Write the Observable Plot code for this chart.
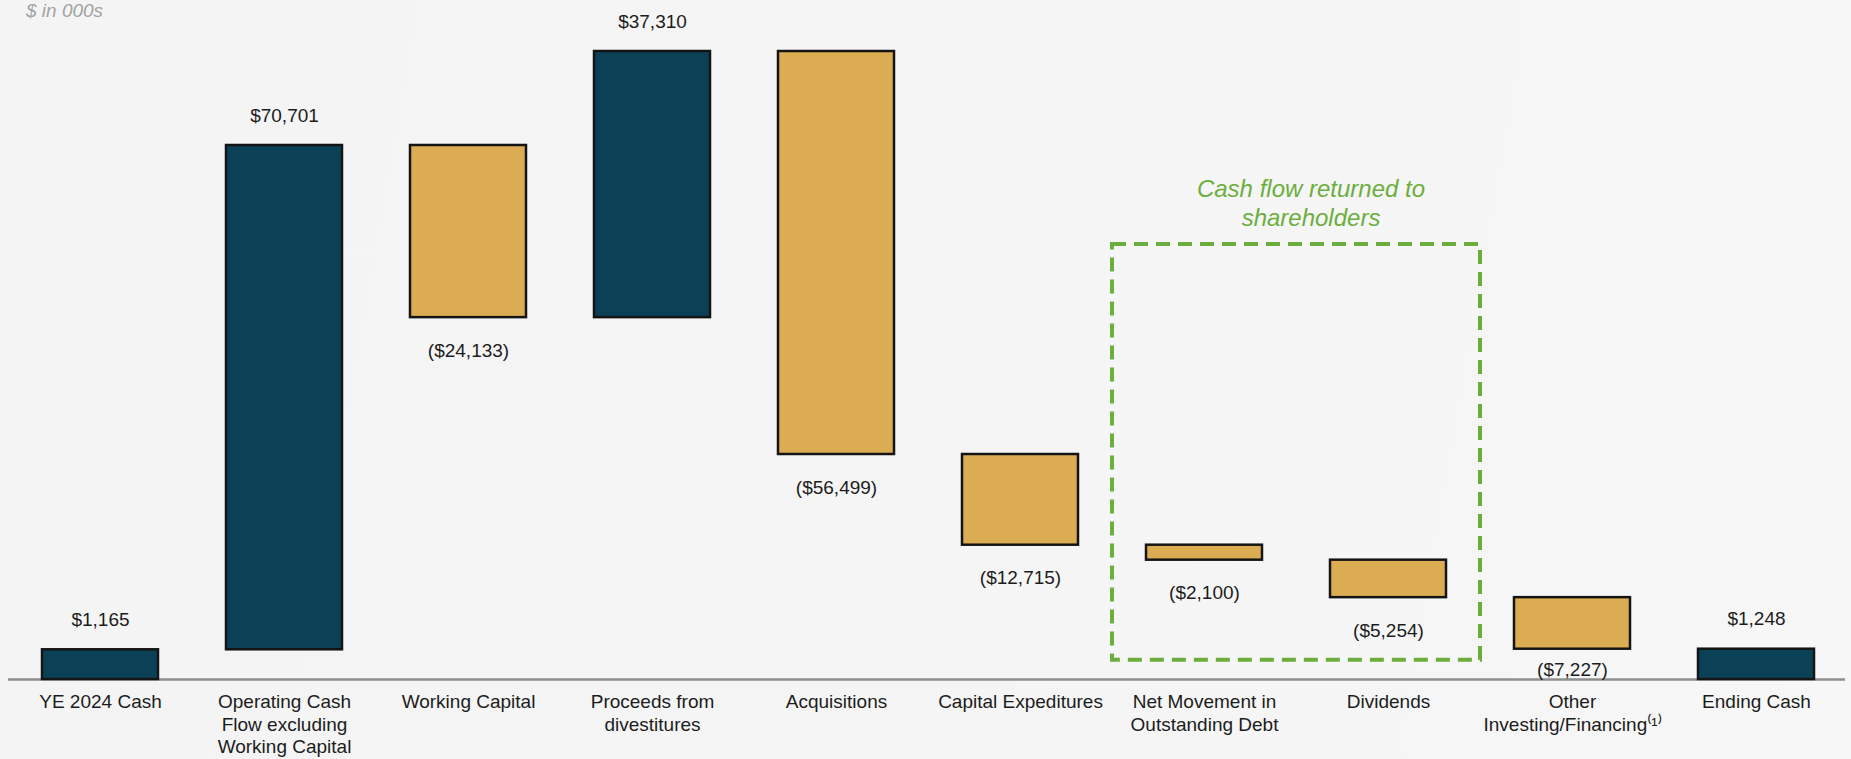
<!DOCTYPE html>
<html>
<head>
<meta charset="utf-8">
<script src="https://cdn.jsdelivr.net/npm/d3@7"></script>
<script src="https://cdn.jsdelivr.net/npm/@observablehq/plot@0.6"></script>
<style>
  html, body { margin: 0; padding: 0; background: #f5f5f5; }
  #wrap { position: relative; width: 1851px; height: 759px; overflow: hidden;
          background: linear-gradient(100deg, #f4f4f4 0%, #f5f5f5 60%, #f7f7f7 100%); }
  #unit { position: absolute; left: 26px; top: 0px; font: italic 19px "Liberation Sans", Arial, sans-serif; color: #a3a3a3; }
</style>
</head>
<body>
<div id="wrap"><div id="unit">$ in 000s</div></div>
<script>
// ---- data ----
const categories = ["YE 2024 Cash", "Operating Cash Flow excluding Working Capital", "Working Capital",
  "Proceeds from divestitures", "Acquisitions", "Capital Expeditures",
  "Net Movement in Outstanding Debt", "Dividends", "Other Investing/Financing", "Ending Cash"];
const tickLabels = ["YE 2024 Cash", "Operating Cash\nFlow excluding\nWorking Capital", "Working Capital",
  "Proceeds from\ndivestitures", "Acquisitions", "Capital Expeditures",
  "Net Movement in\nOutstanding Debt", "Dividends", "Other\nInvesting/Financing\u207D\u00B9\u207E", "Ending Cash"];
const values = [1165, 70701, -24133, 37310, -56499, -12715, -2100, -5254, -7227, 1248];
const kinds = ["total", "delta", "delta", "delta", "delta", "delta", "delta", "delta", "delta", "total"];
const axisFloor = -3000;           // value where the category axis sits
const groupFrom = "Net Movement in Outstanding Debt";
const groupTo = "Dividends";
const groupTop = 58000, groupBottom = -300;   // annotation box extent (value units)
const groupNoteY = 63700;
const groupNote = "Cash flow returned to\nshareholders";

// ---- derived rows ----
const fmt = d3.format(",");
let cum = 0;
const rows = categories.map((cat, i) => {
  const v = values[i];
  let start, end;
  if (kinds[i] === "total") { start = axisFloor; end = v; cum = v; }
  else { start = cum; end = cum + v; cum = end; }
  return {cat, value: v, start, end, kind: kinds[i],
    top: Math.max(start, end), bottom: Math.min(start, end),
    label: v >= 0 ? "$" + fmt(v) : "($" + fmt(-v) + ")"};
});
const yMax = d3.max(rows, d => d.top);

const navy = "#0b4157", gold = "#dcac53", green = "#6cae3e";

const groupBox = (index, scales) => {
  const x = scales.x, y = scales.y;
  const bw = x.bandwidth();
  const step = x.step ? x.step() : bw / 0.63;
  const pad = (step - bw) / 2;
  const x0 = x(groupFrom) - pad, x1 = x(groupTo) + bw + pad;
  const g = d3.create("svg:g");
  g.append("rect")
    .attr("x", x0).attr("y", y(groupTop))
    .attr("width", x1 - x0).attr("height", y(groupBottom) - y(groupTop))
    .attr("fill", "none").attr("stroke", green).attr("stroke-width", 4)
    .attr("stroke-dasharray", "14,8");
  const t = g.append("text")
    .attr("text-anchor", "middle")
    .attr("fill", green)
    .attr("font-style", "italic")
    .attr("font-size", 24)
    .attr("font-family", "'Liberation Sans', Arial, sans-serif");
  const lines = groupNote.split("\n");
  lines.forEach((ln, i) => {
    t.append("tspan").attr("x", (x0 + x1) / 2 + 15)
      .attr("y", y(groupNoteY)).attr("dy", (i - (lines.length - 1) / 2) * 1.2 + 0.35 + "em")
      .text(ln);
  });
  return g.node();
};

const nearFloor = d => d.bottom - axisFloor < 6000;

const plot = Plot.plot({
  width: 1851,
  height: 759,
  marginTop: 51,
  marginBottom: 80,
  marginLeft: 5,
  marginRight: 0,
  style: {background: "transparent", fontFamily: "'Liberation Sans', Arial, sans-serif", fontSize: "19px", color: "#1c1c1c"},
  x: {domain: categories, paddingInner: 0.37, paddingOuter: 0.2, label: null},
  y: {domain: [axisFloor, yMax], axis: null},
  marks: [
    Plot.ruleY([axisFloor], {stroke: "#8e8e8e", strokeWidth: 2.5, insetLeft: 3, insetRight: 6}),
    groupBox,
    Plot.barY(rows, {x: "cat", y1: "start", y2: "end",
      fill: d => (d.kind === "total" || d.value > 0) ? navy : gold,
      stroke: "#141414", strokeWidth: 2.5}),
    Plot.text(rows.filter(d => d.value > 0), {x: "cat", y: "top", text: "label", dy: -30, fontSize: 19, fill: "#1c1c1c"}),
    Plot.text(rows.filter(d => d.value < 0 && !nearFloor(d)), {x: "cat", y: "bottom", text: "label", dy: 33, fontSize: 19, fill: "#1c1c1c"}),
    Plot.text(rows.filter(d => d.value < 0 && nearFloor(d)), {x: "cat", y: axisFloor, text: "label", dy: -10, fontSize: 19, fill: "#1c1c1c"}),
    Plot.axisX({tickSize: 0, tickPadding: 13, fontSize: 19, lineHeight: 1.18, label: null,
      tickFormat: d => tickLabels[categories.indexOf(d)]})
  ]
});
document.getElementById("wrap").appendChild(plot);
</script>
</body>
</html>
